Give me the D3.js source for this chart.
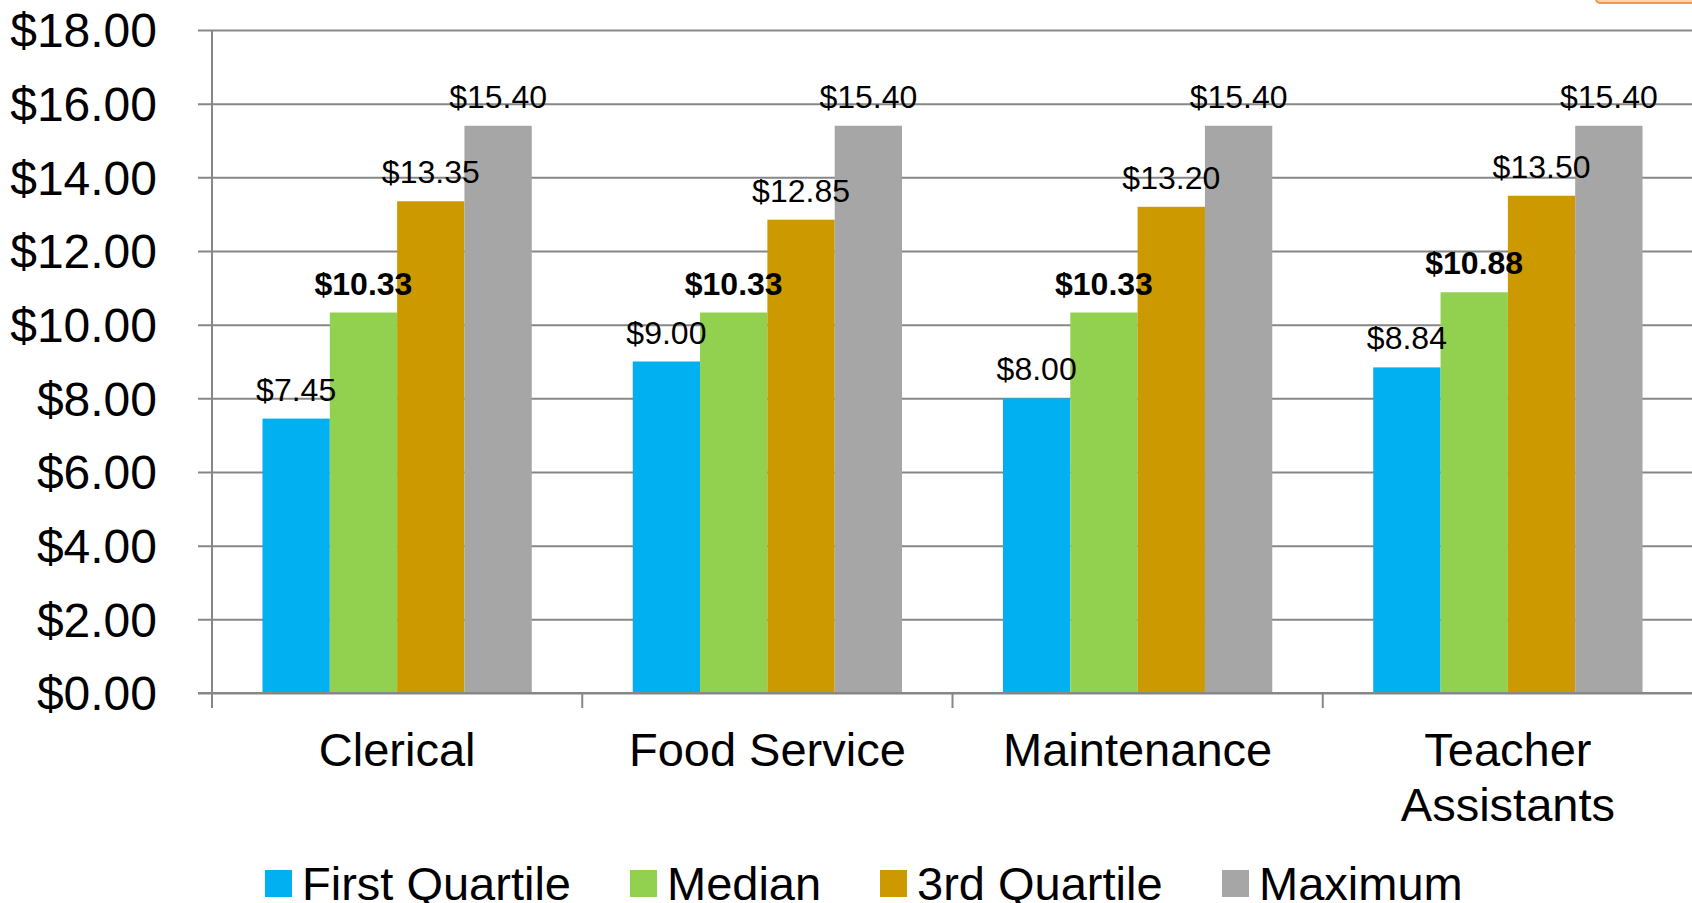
<!DOCTYPE html>
<html>
<head>
<meta charset="utf-8">
<script src="https://cdn.jsdelivr.net/npm/d3@7"></script>
<style>
  body { margin: 0; background: #fff; }
  svg { display: block; font-family: "Liberation Sans", Arial, sans-serif; }
</style>
</head>
<body>
<div id="chart"></div>
<script>
// categories and series
var categories = ["Clerical", "Food Service", "Maintenance", "Teacher Assistants"];
var seriesNames = ["First Quartile", "Median", "3rd Quartile", "Maximum"];
var firstQuartile = [7.45, 9.00, 8.00, 8.84];
var median = [10.33, 10.33, 10.33, 10.88];
var thirdQuartile = [13.35, 12.85, 13.20, 13.50];
var maximum = [15.40, 15.40, 15.40, 15.40];
var yTicks = [0, 2, 4, 6, 8, 10, 12, 14, 16, 18];
var colors = ["#00b0f0", "#92d050", "#cc9900", "#a6a6a6"];

var seriesValues = [firstQuartile, median, thirdQuartile, maximum];

var width = 1692, height = 903;
var plotLeft = 212, plotRight = 1693, plotTop = 30, plotBottom = 693;

var svg = d3.select("#chart").append("svg")
  .attr("width", width)
  .attr("height", height);

// orange shape peeking in at the top right
svg.append("rect")
  .attr("x", 1596).attr("y", -30)
  .attr("width", 120).attr("height", 33)
  .attr("rx", 4)
  .attr("fill", "#fbd3b0")
  .attr("stroke", "#f79646")
  .attr("stroke-width", 2);

var y = d3.scaleLinear().domain([0, 18]).range([plotBottom, plotTop]);
var x0 = d3.scaleBand().domain(categories).range([plotLeft, plotRight]).padding(0);
var bw = x0.bandwidth();
var barW = bw / 5.5; // excel gap width 150%
var x1 = d3.scaleBand().domain(seriesNames)
  .range([barW * 0.75, bw - barW * 0.75]).padding(0);

var fmt = function (d) { return "$" + d3.format(".2f")(d); };

// gridlines, reaching 14px left of the axis
var gy = svg.append("g")
  .attr("transform", "translate(" + plotRight + ",0)")
  .call(d3.axisLeft(y).tickValues(yTicks).tickSize(plotRight - plotLeft + 14).tickFormat(""));
gy.select(".domain").remove();
gy.selectAll("line").attr("stroke", "#878787").attr("stroke-width", 2);

// y tick labels
svg.append("g").selectAll("text")
  .data(yTicks)
  .enter().append("text")
  .attr("x", 157)
  .attr("y", function (d) { return y(d); })
  .attr("dy", "0.36em")
  .attr("text-anchor", "end")
  .attr("font-size", 48)
  .attr("fill", "#000")
  .text(fmt);

// bars
var groups = svg.append("g").selectAll("g")
  .data(categories)
  .enter().append("g")
  .attr("transform", function (d) { return "translate(" + x0(d) + ",0)"; });

function cells(c, ci) {
  return seriesNames.map(function (s, si) { return { s: s, si: si, v: seriesValues[si][ci] }; });
}

groups.selectAll("rect")
  .data(cells)
  .enter().append("rect")
  .attr("x", function (d) { return x1(d.s); })
  .attr("y", function (d) { return y(d.v); })
  .attr("width", x1.bandwidth())
  .attr("height", function (d) { return plotBottom - y(d.v); })
  .attr("fill", function (d) { return colors[d.si]; });

// value labels
groups.selectAll("text")
  .data(cells)
  .enter().append("text")
  .attr("x", function (d) { return x1(d.s) + x1.bandwidth() / 2; })
  .attr("y", function (d) { return y(d.v) - 18; })
  .attr("text-anchor", "middle")
  .attr("font-size", 32)
  .attr("font-weight", function (d) { return d.si === 1 ? "bold" : "normal"; })
  .attr("fill", "#000")
  .text(function (d) { return fmt(d.v); });

// axes lines
svg.append("line")
  .attr("x1", plotLeft).attr("x2", plotLeft)
  .attr("y1", plotTop).attr("y2", plotBottom)
  .attr("stroke", "#878787").attr("stroke-width", 2);
svg.append("line")
  .attr("x1", plotLeft - 14).attr("x2", plotRight)
  .attr("y1", plotBottom).attr("y2", plotBottom)
  .attr("stroke", "#878787").attr("stroke-width", 2);

// category ticks below axis
svg.append("g").selectAll("line")
  .data(d3.range(categories.length + 1))
  .enter().append("line")
  .attr("x1", function (i) { return plotLeft + i * bw; })
  .attr("x2", function (i) { return plotLeft + i * bw; })
  .attr("y1", plotBottom).attr("y2", plotBottom + 15)
  .attr("stroke", "#878787").attr("stroke-width", 2);

// category labels
var catLabels = svg.append("g").selectAll("text")
  .data(categories)
  .enter().append("text")
  .attr("x", function (d) { return x0(d) + bw / 2; })
  .attr("y", 766)
  .attr("text-anchor", "middle")
  .attr("font-size", 47)
  .attr("fill", "#000");
catLabels.each(function (d) {
  var t = d3.select(this);
  if (d === "Teacher Assistants") {
    t.append("tspan").attr("x", x0(d) + bw / 2).text("Teacher");
    t.append("tspan").attr("x", x0(d) + bw / 2).attr("dy", 55).text("Assistants");
  } else {
    t.text(d);
  }
});

// legend (cut at the bottom edge, as in the source)
var legendX = [265, 630, 880, 1222];
var legend = svg.append("g").selectAll("g")
  .data(seriesNames)
  .enter().append("g")
  .attr("transform", function (d, i) { return "translate(" + legendX[i] + ",870)"; });
legend.append("rect")
  .attr("width", 27).attr("height", 27)
  .attr("fill", function (d, i) { return colors[i]; });
legend.append("text")
  .attr("x", 37).attr("y", 13.5)
  .attr("dy", "0.36em")
  .attr("font-size", 47)
  .attr("fill", "#000")
  .text(function (d) { return d; });
</script>
</body>
</html>
